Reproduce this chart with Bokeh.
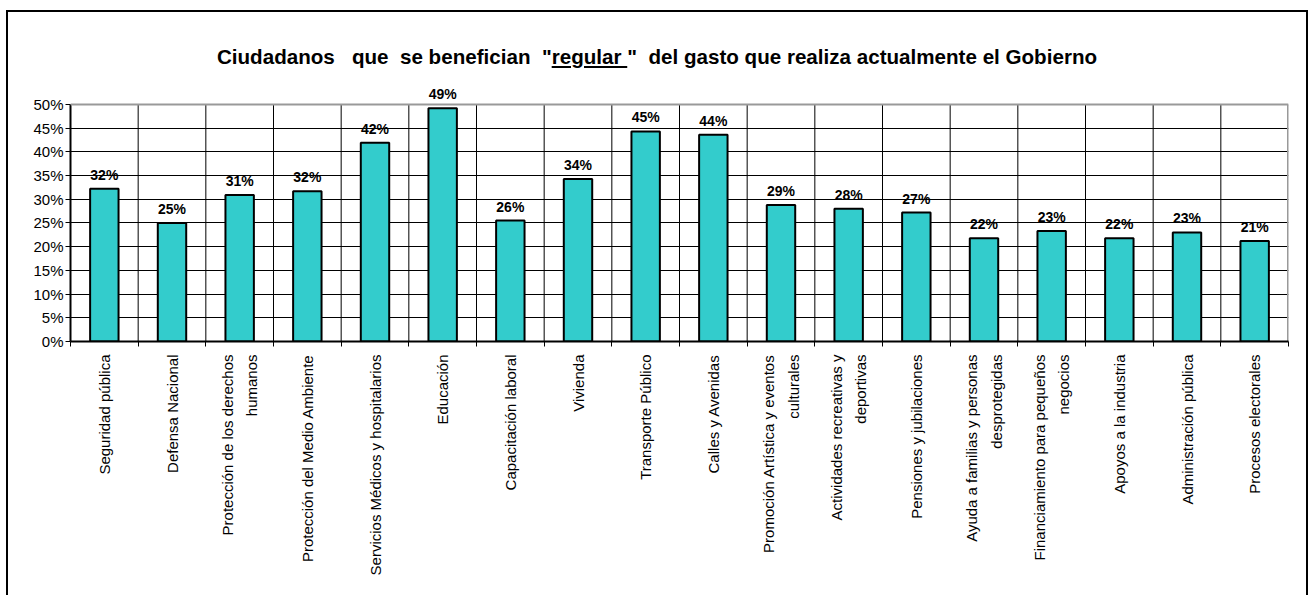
from bokeh.plotting import figure
from bokeh.models import (ColumnDataSource, Range1d, FixedTicker, Label, Div, Span,
                          PrintfTickFormatter)
from bokeh.layouts import column
from bokeh.embed import file_html
from bokeh.resources import INLINE

categories = [
    "Seguridad pública", "Defensa Nacional", "Protección de los derechos\nhumanos",
    "Protección del Medio Ambiente", "Servicios Médicos y hospitalarios", "Educación",
    "Capacitación laboral", "Vivienda", "Transporte Público", "Calles y Avenidas",
    "Promoción Artística y eventos\nculturales", "Actividades recreativas y\ndeportivas",
    "Pensiones y jubilaciones", "Ayuda a familias y personas\ndesprotegidas",
    "Financiamiento para pequeños\nnegocios", "Apoyos a la industria",
    "Administración pública", "Procesos electorales",
]
values = [32.2, 25.0, 30.9, 31.7, 41.9, 49.2, 25.5, 34.3, 44.3, 43.6,
          28.8, 28.0, 27.2, 21.8, 23.3, 21.8, 23.0, 21.2]
value_labels = ["32%", "25%", "31%", "32%", "42%", "49%", "26%", "34%", "45%", "44%",
                "29%", "28%", "27%", "22%", "23%", "22%", "23%", "21%"]
y_ticks = [0, 5, 10, 15, 20, 25, 30, 35, 40, 45, 50]
y_max = 50

n = len(categories)
centers = [i + 0.5 for i in range(n)]
bounds = list(range(n + 1))

FONT = "Liberation Sans"

src = ColumnDataSource(dict(x=centers, top=values, lab=value_labels))

# headroom above the 50% line so that the value labels are not clipped
p = figure(width=1298, height=523, x_range=Range1d(0, n), y_range=Range1d(0, 55.9),
           output_backend="svg", toolbar_location=None,
           min_border_left=62, min_border_right=18, min_border_top=4, min_border_bottom=254)
p.background_fill_color = "white"
p.border_fill_color = "white"
p.outline_line_color = None

# vertical grid lines at category boundaries (only up to 50%)
inner = bounds[1:-1]
p.segment(x0=inner, y0=[0] * len(inner), x1=inner, y1=[y_max] * len(inner),
          line_color="black", line_width=1)
# plot-area border (top and right), grey
p.add_layout(Span(location=y_max, dimension="width", line_color="#999999", line_width=2))
p.segment(x0=[bounds[-1]], y0=[0], x1=[bounds[-1]], y1=[y_max],
          line_color="#999999", line_width=3)

p.vbar(x="x", top="top", width=0.42, source=src, fill_color="#33CCCC",
       line_color="black", line_width=2)

for xc, v, lab in zip(centers, values, value_labels):
    p.add_layout(Label(x=xc, y=v, text=lab, text_align="center",
                       text_baseline="alphabetic", y_offset=14, text_font=FONT,
                       text_font_size="14px", text_font_style="bold",
                       text_color="black"))

# x axis
xa = p.xaxis[0]
xa.ticker = FixedTicker(ticks=centers, minor_ticks=bounds)
xa.major_label_overrides = {c: lab for c, lab in zip(centers, categories)}
xa.major_label_orientation = 3.14159265 / 2
xa.major_tick_out = 0
xa.major_tick_in = 0
xa.minor_tick_out = 5
xa.minor_tick_in = 0
xa.minor_tick_line_color = "black"
xa.axis_line_color = "black"
xa.axis_line_width = 2
xa.major_label_standoff = 8
xa.major_label_text_font = FONT
xa.major_label_text_font_size = "15px"
xa.major_label_text_color = "black"
xa.major_label_text_line_height = 1.45

# y axis
ya = p.yaxis[0]
ya.ticker = FixedTicker(ticks=y_ticks)
ya.bounds = (0, y_max)
ya.formatter = PrintfTickFormatter(format="%d%%")
ya.major_tick_out = 5
ya.major_tick_in = 0
ya.minor_tick_out = 0
ya.minor_tick_in = 0
ya.major_tick_line_color = "black"
ya.axis_line_color = "black"
ya.axis_line_width = 2
ya.major_label_standoff = 2
ya.major_label_text_font = FONT
ya.major_label_text_font_size = "15px"
ya.major_label_text_color = "black"

p.xgrid.grid_line_color = None
p.ygrid.ticker = FixedTicker(ticks=y_ticks[1:-1])
p.ygrid.grid_line_color = "black"
p.ygrid.grid_line_width = 1

title_html = (
    '<div style="padding-top:30px; width:1298px; text-align:center; white-space:pre; '
    'font-family:\'Liberation Sans\', Arial, sans-serif; font-size:20.6px; font-weight:bold; color:black;">'
    'Ciudadanos   que  se benefician  "<u>regular </u>"  del gasto que realiza actualmente el Gobierno'
    '</div>'
)
title = Div(text=title_html, width=1298, height=60, margin=0)

layout = column(title, p, spacing=0,
                styles={"border-top": "2px solid black", "border-left": "2px solid black",
                        "border-right": "2px solid black", "margin-left": "6px",
                        "margin-top": "10px", "background": "white"})

open("out.html", "w").write(file_html(layout, INLINE))
